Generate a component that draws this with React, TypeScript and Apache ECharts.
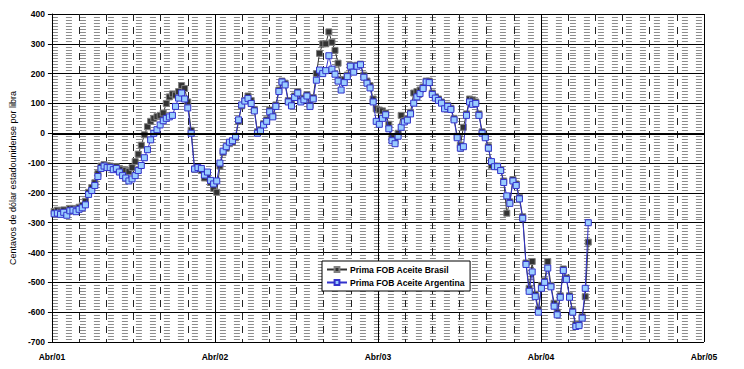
import React, { useEffect, useRef } from "react";
import * as echarts from "echarts";

// Weekly observations starting 2001-04-06
const START_YEAR = 2001;
const START_MONTH = 3; // April (0-based)
const START_DAY = 6;
const STEP_DAYS = 7;

const xTickLabels = ["Abr/01", "Abr/02", "Abr/03", "Abr/04", "Abr/05"];

const argentina = [
  -270, -268, -272, -265, -275, -260, -258, -263, -255, -250,
  -240, -205, -192, -175, -145, -118, -110, -115, -115, -122,
  -118, -130, -142, -150, -160, -153, -142, -125, -108, -82,
  -55, -22, 0, 12, 28, 42, 50, 55, 60, 90,
  118, 135, 115, 85, 0, -120, -115, -118, -140, -130,
  -158, -170, -160, -100, -60, -45, -30, -25, -10, 45,
  95, 108, 117, 100, 75, 0, 8, 28, 40, 72,
  55, 90, 140, 172, 162, 105, 92, 120, 135, 105,
  112, 125, 90, 115, 178, 212, 200, 210, 260, 215,
  198, 175, 145, 170, 190, 225, 205, 225, 230, 188,
  168, 152, 105, 40, 30, 50, 62, 15, -25, -35,
  -10, 20, 38, 44, 65, 101, 122, 133, 150, 172,
  170, 130, 118, 110, 101, 82, 90, 80, 45, -15,
  -50, -45, 60, 105, 97, 100, 60, 0, -15, -50,
  -95, -112, -112, -125, -165, -210, -235, -160, -175, -220,
  -285, -440, -530, -465, -548, -600, -520, -500, -452, -515,
  -580, -609, -550, -460, -490, -550, -600, -648, -645, -620,
  -520, -300,
];

const brasil = [
  -262, -258, -264, -257, -265, -252, -252, -256, -248, -242,
  -228, -198, -182, -166, -135, -110, -105, -108, -110, -115,
  -112, -118, -122, -125, -128, -115, -95, -70, -40, -5,
  22, 40, 50, 56, 60, 68, 100, 122, 132, 128,
  140, 160, 150, 105, 10, -120, -118, -125, -150, -140,
  -165, -185, -198, -110, -65, -50, -35, -30, -15, 40,
  92, 110, 125, 110, 80, 5, 12, 32, 45, 78,
  60, 95, 145, 175, 168, 110, 98, 125, 140, 110,
  118, 130, 95, 120, 200, 268, 300, 300, 340, 305,
  278, 235, 180, 180, 195, 228, 212, 228, 232, 195,
  175, 160, 115, 82, 78, 75, 68, 30, -15, -25,
  0, 60, 42, 48, 70, 135, 140, 145, 155, 175,
  175, 135, 122, 115, 105, 86, 94, 84, 50, -10,
  -40, 20, 65, 115, 112, 105, 65, 5, -10, -45,
  -108, -110, -110, -122, -160, -268, -230, -155, -170, -215,
  -280, -435, -520, -430, -540, -590, -510, -495, -430, -510,
  -570, -600, -545, -455, -485, -545, -595, -640, -640, -615,
  -548, -365,
];

const seriesNames = ["Prima FOB Aceite Brasil", "Prima FOB Aceite Argentina"];
const yAxisName = "Centavos de dólar estadounidense por libra";

function monthOffset(d: Date): number {
  const daysInMonth = new Date(d.getFullYear(), d.getMonth() + 1, 0).getDate();
  return (
    (d.getFullYear() - START_YEAR) * 12 +
    (d.getMonth() - 3) +
    (d.getDate() - 1) / daysInMonth
  );
}

function buildPairs(values: number[]): [number, number][] {
  return values.map((v, i) => {
    const d = new Date(START_YEAR, START_MONTH, START_DAY + STEP_DAYS * i);
    return [monthOffset(d), v];
  });
}

export default function App() {
  const ref = useRef<HTMLDivElement>(null);

  useEffect(() => {
    if (!ref.current) return;
    const chart = echarts.init(ref.current, null, { renderer: "svg" });
    const font = "'Liberation Sans', Arial, sans-serif";
    chart.setOption({
      animation: false,
      backgroundColor: "#ffffff",
      grid: { left: 44, right: 40, top: 14, bottom: 27, containLabel: false },
      legend: {
        data: seriesNames,
        orient: "vertical",
        left: 322,
        top: 261,
        padding: [4, 5, 4, 4],
        itemGap: 4,
        itemWidth: 20,
        itemHeight: 6,
        backgroundColor: "#ffffff",
        borderColor: "#000000",
        borderWidth: 1,
        borderRadius: 0,
        textStyle: {
          fontFamily: font,
          fontSize: 8.6,
          fontWeight: "bold",
          color: "#000",
          padding: [0, 0, 0, -2],
        },
      },
      xAxis: {
        type: "value",
        min: 0,
        max: 48,
        interval: 12,
        axisLine: { show: true, lineStyle: { color: "#000", width: 1 } },
        axisTick: { show: false },
        axisLabel: {
          margin: 10,
          fontFamily: font,
          fontSize: 8.5,
          fontWeight: "bold",
          color: "#000",
          formatter: (v: number) => xTickLabels[Math.round(v / 12)] ?? "",
        },
        splitLine: { show: true, lineStyle: { color: "#000", width: 1 } },
        minorTick: { show: false, splitNumber: 6 },
        minorSplitLine: {
          show: true,
          lineStyle: { color: "#222", width: 1, type: [7, 6] },
        },
      },
      yAxis: {
        type: "value",
        min: -700,
        max: 400,
        interval: 100,
        name: yAxisName,
        nameLocation: "middle",
        nameGap: 30,
        nameTextStyle: { fontFamily: font, fontSize: 9, color: "#000" },
        axisLine: { show: true, lineStyle: { color: "#000", width: 1 } },
        axisTick: { show: true, length: 4, lineStyle: { color: "#000" } },
        axisLabel: {
          margin: 7,
          fontFamily: font,
          fontSize: 8.5,
          fontWeight: "bold",
          color: "#000",
        },
        splitLine: { show: true, lineStyle: { color: "#000", width: 1 } },
        minorTick: { show: false, splitNumber: 10 },
        minorSplitLine: {
          show: true,
          lineStyle: { color: "#8c8c8c", width: 1, type: [6, 8] },
        },
      },
      series: [
        {
          name: "zero",
          type: "line",
          data: [],
          z: 1,
          silent: true,
          markLine: {
            silent: true,
            symbol: "none",
            label: { show: false },
            lineStyle: { color: "#000", width: 2, type: "solid" },
            data: [{ yAxis: 0 }],
          },
        },
        {
          name: seriesNames[0],
          type: "line",
          data: buildPairs(brasil),
          symbol: "rect",
          symbolSize: 6,
          showAllSymbol: true,
          z: 3,
          lineStyle: { color: "#333333", width: 1 },
          itemStyle: { color: "#333333", borderColor: "#808080", borderWidth: 1 },
        },
        {
          name: seriesNames[1],
          type: "line",
          data: buildPairs(argentina),
          symbol: "rect",
          symbolSize: 6,
          showAllSymbol: true,
          z: 4,
          lineStyle: { color: "#3333cc", width: 1 },
          itemStyle: { color: "#99ccff", borderColor: "#3333cc", borderWidth: 1 },
        },
      ],
    });
    return () => chart.dispose();
  }, []);

  return (
    <div
      ref={ref}
      style={{ position: "fixed", left: 0, top: 0, width: 744, height: 369 }}
    />
  );
}
